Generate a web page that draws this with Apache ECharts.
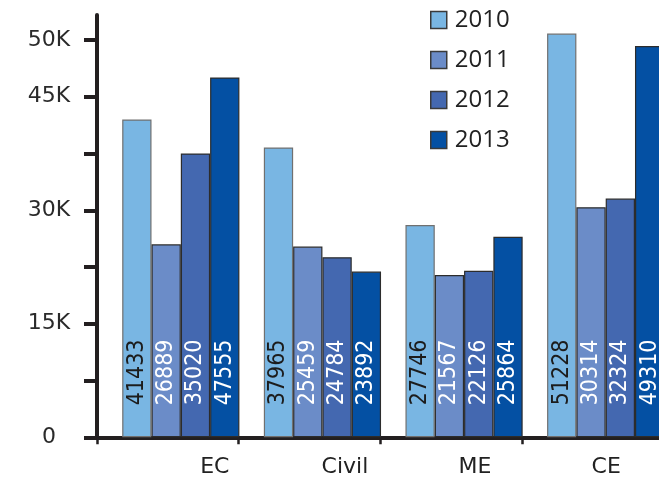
<!DOCTYPE html>
<html><head><meta charset="utf-8">
<script src="https://cdn.jsdelivr.net/npm/echarts@6/dist/echarts.min.js"></script>
<style>html,body{margin:0;padding:0;background:#fff}#c{width:659px;height:480px}</style>
</head><body><div id="c"></div>
<script>
const categories = ['EC', 'Civil', 'ME', 'CE'];
const years = ['2010', '2011', '2012', '2013'];
// bar heights as drawn in the picture
const values2010 = [42000, 38300, 28050, 53350];
const values2011 = [25500, 25200, 21450, 30400];
const values2012 = [37500, 23800, 22000, 31550];
const values2013 = [47550, 21900, 26500, 51700];
// numbers printed inside the bars
const labels2010 = ['41433', '37965', '27746', '51228'];
const labels2011 = ['26889', '25459', '21567', '30314'];
const labels2012 = ['35020', '24784', '22126', '32324'];
const labels2013 = ['47555', '23892', '25864', '49310'];
const yTickValues = [0, 7500, 15000, 22500, 30000, 37500, 45000, 52500];
const yLabelValues = [0, 15000, 30000, 45000, 52500];
const yLabelTexts = ['0', '15K', '30K', '45K', '50K'];

const allValues = [values2010, values2011, values2012, values2013];
const allLabels = [labels2010, labels2011, labels2012, labels2013];
const colors = ['#79b6e3', '#6b8cc8', '#4468b0', '#0450a3'];
const borders = ['#707070', '#2c2c2c', '#2c2c2c', '#2c2c2c'];
const labelColors = ['#1c1c1c', '#ffffff', '#ffffff', '#ffffff'];
const xPads = [94, 71, 48, 27];

const rich = {};
xPads.forEach((p, i) => {
  rich['p' + i] = {padding: [0, 0, 0, p], fontFamily: 'DejaVu Sans', fontSize: 22, color: '#222'};
});

const series = [{
  name: '_spacer', type: 'bar', data: categories.map(() => 0), barWidth: 26, barGap: '0%',
  itemStyle: {opacity: 0}, silent: true, label: {show: false}, tooltip: {show: false}
}];
years.forEach((y, si) => {
  series.push({
    name: y, type: 'bar', data: allValues[si], barWidth: 29.3, barGap: '0%',
    itemStyle: {color: colors[si], borderColor: borders[si], borderWidth: 1.2},
    label: {
      show: true, position: 'insideBottom', rotate: 90, align: 'left', verticalAlign: 'middle',
      distance: 32, color: labelColors[si],
      fontFamily: "'DejaVu Sans Condensed', 'Liberation Sans', sans-serif",
      fontSize: 23,
      formatter: p => allLabels[si][p.dataIndex]
    }
  });
});

const chart = echarts.init(document.getElementById('c'), null, {renderer: 'canvas'});
chart.setOption({
  animation: false,
  backgroundColor: '#fff',
  grid: {left: 97, right: -4.5, top: 15, bottom: 42.7, containLabel: false, outerBoundsMode: 'none'},
  legend: {
    data: years, orient: 'vertical', left: 425, top: 3, itemWidth: 16, itemHeight: 17, itemGap: 16,
    icon: 'rect', itemStyle: {borderColor: '#3a3a3a', borderWidth: 1.5},
    textStyle: {fontFamily: 'Open Sans', fontSize: 24, color: '#222', padding: [0, 0, 0, 3], lineHeight: 23}
  },
  xAxis: {
    type: 'category', data: categories, boundaryGap: true,
    axisLine: {show: true, lineStyle: {color: '#231f20', width: 4}},
    axisTick: {show: true, length: 7, lineStyle: {color: '#231f20', width: 2.5}},
    axisLabel: {interval: 0, margin: 19, formatter: (v, i) => '{p' + i + '|' + v + '}', rich: rich}
  },
  yAxis: {
    type: 'value', min: 0, max: 55800,
    axisLine: {show: true, lineStyle: {color: '#231f20', width: 4}},
    axisTick: {show: true, customValues: yTickValues, length: 13, lineStyle: {color: '#231f20', width: 4}},
    axisLabel: {
      customValues: yLabelValues,
      formatter: v => yLabelTexts[yLabelValues.indexOf(v)],
      align: 'center', margin: 48, color: '#2a2a2a', fontFamily: 'DejaVu Sans', fontSize: 22
    },
    splitLine: {show: false}
  },
  series: series
});
</script>
</body></html>
